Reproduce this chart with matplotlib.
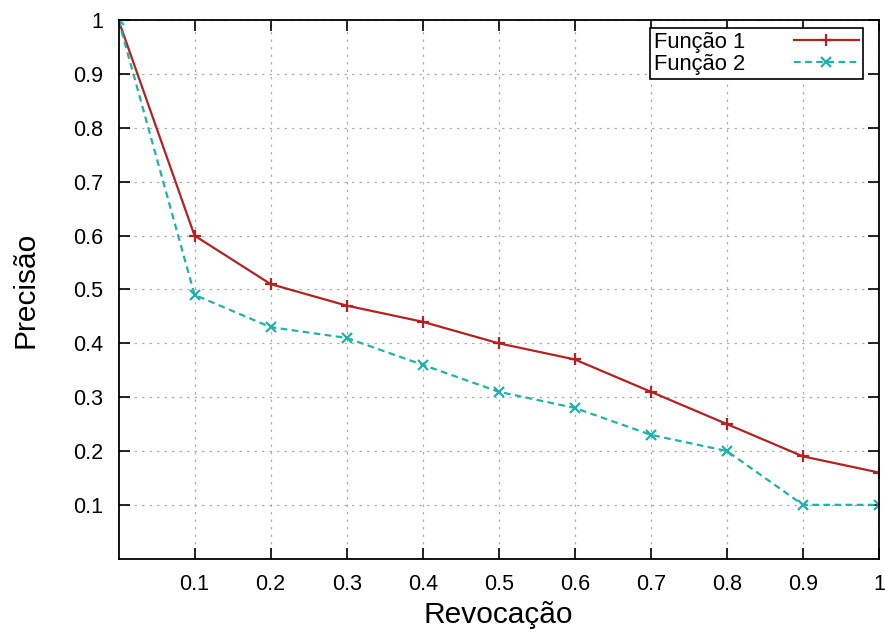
import matplotlib
matplotlib.use("Agg")
import matplotlib.pyplot as plt

recall = [0.0, 0.1, 0.2, 0.3, 0.4, 0.5, 0.6, 0.7, 0.8, 0.9, 1.0]
func1 = [1.0, 0.60, 0.51, 0.47, 0.44, 0.40, 0.37, 0.31, 0.25, 0.19, 0.16]
func2 = [1.0, 0.49, 0.43, 0.41, 0.36, 0.31, 0.28, 0.23, 0.20, 0.10, 0.10]
xticks = [0.1, 0.2, 0.3, 0.4, 0.5, 0.6, 0.7, 0.8, 0.9, 1.0]
xticklabels = ["0.1", "0.2", "0.3", "0.4", "0.5", "0.6", "0.7", "0.8", "0.9", "1"]
yticks = [0.1, 0.2, 0.3, 0.4, 0.5, 0.6, 0.7, 0.8, 0.9, 1.0]
yticklabels = ["0.1", "0.2", "0.3", "0.4", "0.5", "0.6", "0.7", "0.8", "0.9", "1"]

plt.rcParams['font.family'] = ['Liberation Sans', 'DejaVu Sans']

fig = plt.figure(figsize=(8.85, 6.32), dpi=100)
ax = fig.add_axes([0.1339, 0.116, 0.8593, 0.852])

ax.plot(recall, func1, color='#b22222', lw=1.6, marker='+', ms=9, mew=1.6, label='Função 1')
ax.plot(recall, func2, color='#20b2aa', lw=1.6, ls=(0, (3, 2)), marker='x', ms=7, mew=1.6, label='Função 2')

ax.set_xlim(0, 1)
ax.set_ylim(0, 1)
ax.set_xticks(xticks)
ax.set_xticklabels(xticklabels)
ax.set_yticks(yticks)
ax.set_yticklabels(yticklabels)
ax.tick_params(direction='in', length=8, width=1.2, top=True, right=True, labelsize=15.5)
ax.tick_params(axis='y', pad=11)
ax.tick_params(axis='x', pad=11)
ax.grid(True, color='#b0b0b0', ls=(0, (2, 4)), lw=0.9)
for s in ax.spines.values():
    s.set_linewidth(1.3)

ax.set_xlabel('Revocação', fontsize=21.5, labelpad=4)
ax.set_ylabel('Precisão', fontsize=21.5, labelpad=24)

leg = ax.legend(loc='upper right', bbox_to_anchor=(0.979, 0.986), fontsize=15.8, frameon=True, fancybox=False,
                edgecolor='black', framealpha=1, handlelength=2.95, markerfirst=False,
                borderpad=0.2, labelspacing=0.02, handletextpad=2.2, borderaxespad=0)
leg.get_frame().set_linewidth(1.2)

fig.savefig('out.png', dpi=100)
